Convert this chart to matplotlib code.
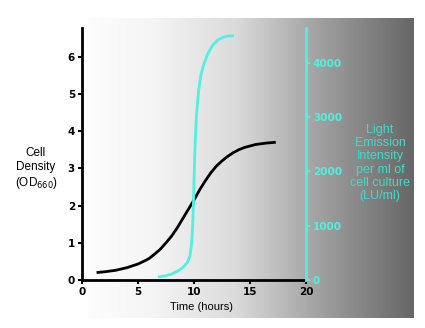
import matplotlib
matplotlib.use("Agg")
import matplotlib.pyplot as plt
import numpy as np
from matplotlib.colors import LinearSegmentedColormap

# Data
time_od = [1.3, 2.0, 3.0, 4.0, 5.0, 5.5, 6.0, 6.5, 7.0, 7.5, 8.0, 8.5, 9.0, 9.5,
           10.0, 10.5, 11.0, 11.5, 12.0, 12.5, 13.0, 13.5, 14.0, 14.5, 15.0,
           15.5, 16.0, 16.5, 17.3]
od660 = [0.20, 0.22, 0.26, 0.33, 0.43, 0.50, 0.58, 0.70, 0.83, 1.00, 1.18, 1.40,
         1.65, 1.90, 2.15, 2.42, 2.66, 2.88, 3.06, 3.20, 3.32, 3.42, 3.50, 3.56,
         3.60, 3.64, 3.66, 3.68, 3.70]

time_lu = [6.9, 7.5, 8.0, 8.5, 9.0, 9.4, 9.65, 9.8, 9.88, 9.95, 10.0, 10.05,
           10.12, 10.2, 10.3, 10.42, 10.6, 10.85, 11.2, 11.65, 12.1, 12.55,
           13.0, 13.45]
lu_ml = [60, 80, 110, 160, 230, 320, 450, 700, 1000, 1400, 1800, 2200, 2600,
         2950, 3230, 3500, 3760, 3960, 4160, 4320, 4420, 4470, 4495, 4500]

x_ticks = [0, 5, 10, 15, 20]
od_ticks = [0, 1, 2, 3, 4, 5, 6]
lu_ticks = [0, 1000, 2000, 3000, 4000]

W, H = 425, 328
fig = plt.figure(figsize=(W / 100, H / 100), dpi=100)
fig.patch.set_facecolor("white")

# Background gradient panel
bg = fig.add_axes([88 / W, 1 - 318 / H, (414 - 88) / W, 300 / H])
cmap = LinearSegmentedColormap.from_list(
    "g", [(0.0, (0.99, 0.99, 0.99)), (0.2, (0.96, 0.96, 0.96)),
          (0.45, (0.86, 0.86, 0.86)), (0.7, (0.64, 0.64, 0.64)),
          (1.0, (0.40, 0.40, 0.40))])
grad = np.linspace(0, 1, 256).reshape(1, -1)
bg.imshow(grad, aspect="auto", cmap=cmap, extent=[0, 1, 0, 1])
bg.set_axis_off()

tick_font = ["Liberation Sans Narrow", "DejaVu Sans Condensed", "DejaVu Sans"]
label_font = ["Liberation Sans", "DejaVu Sans"]
cyan = "#4ef2de"
cyan_text = "#40dccb"

ax = fig.add_axes([82 / W, 1 - 280 / H, (306 - 82) / W, 252 / H])
ax.patch.set_alpha(0)
ax.plot(time_od, od660, color="black", lw=2.0, solid_capstyle="butt",
        solid_joinstyle="round")
ax.set_xlim(0, 20)
ax.set_ylim(0, 6.77)
ax.set_xticks(x_ticks)
ax.set_yticks(od_ticks)
for s in ["top", "right"]:
    ax.spines[s].set_visible(False)
ax.spines["left"].set_linewidth(2)
ax.spines["bottom"].set_linewidth(2)
ax.tick_params(axis="both", length=3, width=1.5, labelsize=7.5, pad=2)
for lab in ax.get_xticklabels() + ax.get_yticklabels():
    lab.set_fontweight("bold")
    lab.set_family(tick_font)

ax2 = ax.twinx()
ax2.plot(time_lu, lu_ml, color=cyan, lw=2.0, solid_joinstyle="round")
ax2.set_ylim(0, 4645)
ax2.set_yticks(lu_ticks)
for s in ["top", "left", "bottom"]:
    ax2.spines[s].set_visible(False)
ax2.spines["right"].set_color(cyan)
ax2.spines["right"].set_linewidth(2)
ax2.tick_params(axis="y", colors=cyan, length=3, width=1.5, labelsize=7.5, pad=2)
for lab in ax2.get_yticklabels():
    lab.set_fontweight("bold")
    lab.set_family(tick_font)
    lab.set_color(cyan)

fig.text(202 / W, 1 - 307 / H, "Time (hours)", ha="center", va="center",
         fontsize=8, family=label_font)
fig.text(36 / W, 1 - 169 / H, "Cell\nDensity\n(OD$_{660}$)", ha="center", va="center",
         fontsize=8.5, family=label_font, linespacing=1.2)
fig.text(380 / W, 1 - 163 / H,
         "Light\nEmission\nIntensity\nper ml of\ncell culture\n(LU/ml)",
         ha="center", va="center", fontsize=9, color=cyan_text,
         family=label_font, linespacing=1.13)

fig.savefig("out.png", dpi=100)
